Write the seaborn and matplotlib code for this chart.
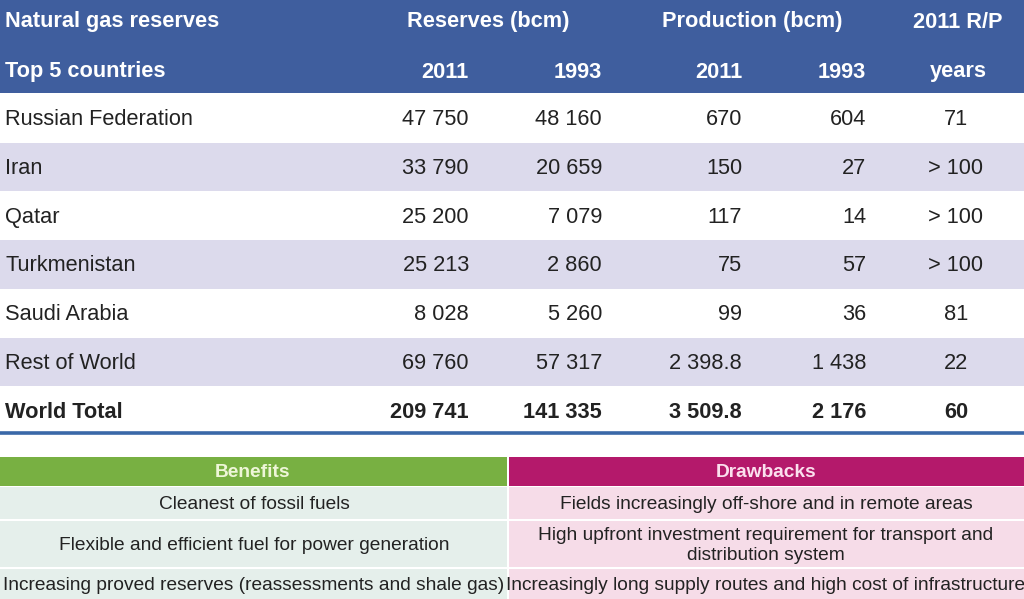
import matplotlib.pyplot as plt
import seaborn as sns
from matplotlib.patches import Rectangle

countries = ['Russian Federation', 'Iran', 'Qatar', 'Turkmenistan', 'Saudi Arabia', 'Rest of World', 'World Total']
res_2011 = ['47 750', '33 790', '25 200', '25 213', '8 028', '69 760', '209 741']
res_1993 = ['48 160', '20 659', '7 079', '2 860', '5 260', '57 317', '141 335']
prod_2011 = ['670', '150', '117', '75', '99', '2 398.8', '3 509.8']
prod_1993 = ['604', '27', '14', '57', '36', '1 438', '2 176']
rp_years = ['71', '> 100', '> 100', '> 100', '81', '22', '60']

benefits = ['Cleanest of fossil fuels',
            'Flexible and efficient fuel for power generation',
            'Increasing proved reserves (reassessments and shale gas)']
drawbacks = ['Fields increasingly off-shore and in remote areas',
             'High upfront investment requirement for transport and\ndistribution system',
             'Increasingly long supply routes and high cost of infrastructure']

sns.set_style('white')
plt.rcParams['font.family'] = ['Liberation Sans', 'DejaVu Sans']

fig = plt.figure(figsize=(10.24, 5.99), dpi=100)
ax = fig.add_axes([0, 0, 1, 1])
ax.set_xlim(0, 1024)
ax.set_ylim(599, 0)
ax.axis('off')

blue = '#3f5e9e'
lav = '#dcdaec'
txt = '#222222'
fs = 15.7
fs2 = 13.8

# header band
ax.add_patch(Rectangle((0, 0), 1024, 93, color=blue, lw=0))
hdr = dict(color='white', fontsize=fs, fontweight='bold', va='center')
ax.text(5, 22, 'Natural gas reserves', ha='left', **hdr)
ax.text(488, 22, 'Reserves (bcm)', ha='center', **hdr)
ax.text(752, 22, 'Production (bcm)', ha='center', **hdr)
ax.text(958, 22, '2011 R/P', ha='center', **hdr)
ax.text(5, 72, 'Top 5 countries', ha='left', **hdr)
ax.text(469, 72, '2011', ha='right', **hdr)
ax.text(602, 72, '1993', ha='right', **hdr)
ax.text(742, 72, '2011', ha='right', **hdr)
ax.text(866, 72, '1993', ha='right', **hdr)
ax.text(958, 72, 'years', ha='center', **hdr)

row_h = 48.7
top = 94
for i, name in enumerate(countries):
    y0 = top + i * row_h
    if i % 2 == 1:
        ax.add_patch(Rectangle((0, y0), 1024, row_h, color=lav, lw=0))
    yc = y0 + row_h / 2 + 1.5
    bold = 'bold' if name == 'World Total' else 'normal'
    kw = dict(color=txt, fontsize=fs, fontweight=bold, va='center')
    ax.text(5, yc, name, ha='left', **kw)
    ax.text(469, yc, res_2011[i], ha='right', **kw)
    ax.text(602, yc, res_1993[i], ha='right', **kw)
    ax.text(742, yc, prod_2011[i], ha='right', **kw)
    ax.text(866, yc, prod_1993[i], ha='right', **kw)
    ax.text(956, yc, rp_years[i], ha='center', **kw)

ax.plot([0, 1024], [433, 433], color='#3a68a8', lw=2.6, solid_capstyle='butt')

# benefits / drawbacks table
green = '#78b042'
magenta = '#b4196b'
ax.add_patch(Rectangle((0, 457), 507, 29, color=green, lw=0))
ax.add_patch(Rectangle((509, 457), 515, 29, color=magenta, lw=0))
ax.text(253, 472.5, 'Benefits', ha='center', va='center', color='#eef6d8', fontsize=fs2, fontweight='bold')
ax.text(766, 472.5, 'Drawbacks', ha='center', va='center', color='#fbe0ee', fontsize=fs2, fontweight='bold')

bounds = [(487, 519), (521, 567), (569, 599)]
for (y0, y1), b, d in zip(bounds, benefits, drawbacks):
    ax.add_patch(Rectangle((0, y0), 507, y1 - y0, color='#e5efeb', lw=0))
    ax.add_patch(Rectangle((509, y0), 515, y1 - y0, color='#f6dce8', lw=0))
    yc = (y0 + y1) / 2 + 1.5
    ax.text(254, yc, b, ha='center', va='center', color=txt, fontsize=fs2)
    ax.text(766, yc, d, ha='center', va='center', color=txt, fontsize=fs2, linespacing=1.2)

fig.savefig('out.png', dpi=100)
